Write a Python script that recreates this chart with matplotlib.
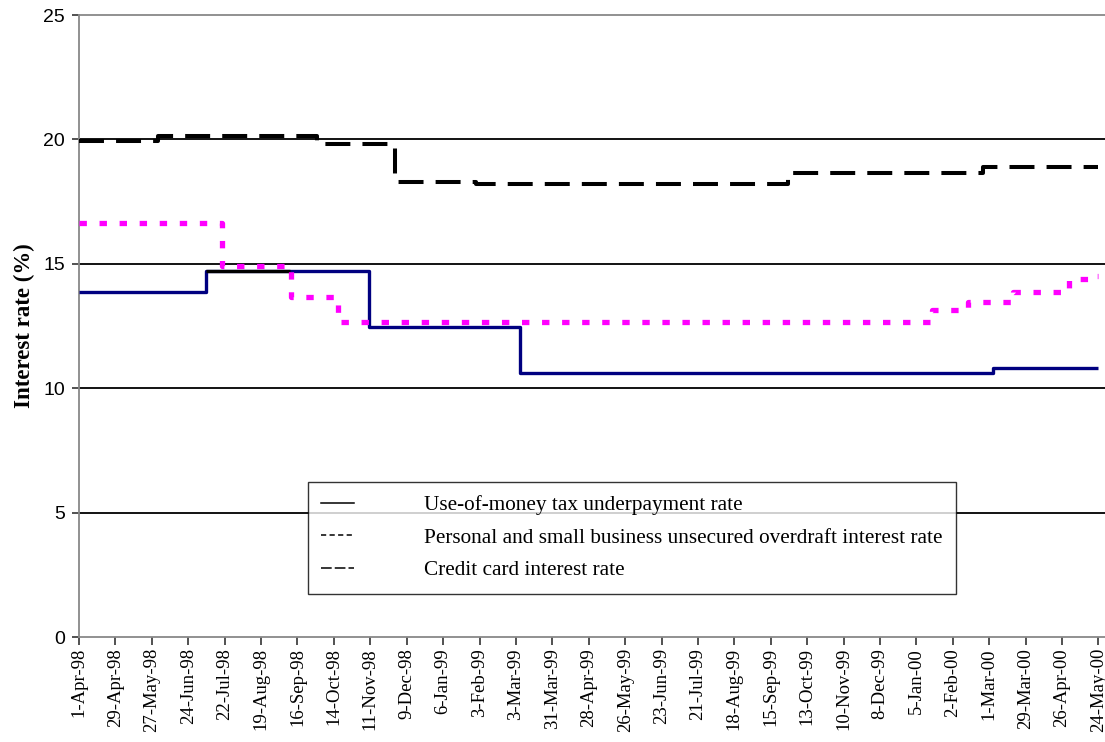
import datetime as dt
import matplotlib.pyplot as plt
from matplotlib.lines import Line2D

# step changes in each rate (date the new rate applies, rate in %)
underpay_dates = ["1998-04-01", "1998-07-08", "1998-11-10", "1999-03-06", "2000-03-04", "2000-05-24"]
underpay_rates = [13.85, 14.7, 12.45, 10.6, 10.8, 10.8]

overdraft_dates = ["1998-04-01", "1998-07-20", "1998-09-11", "1998-10-17", "2000-01-17",
                   "2000-02-14", "2000-03-19", "2000-05-01", "2000-05-19", "2000-05-24"]
overdraft_rates = [16.65, 14.9, 13.65, 12.65, 13.15, 13.45, 13.85, 14.4, 14.5, 14.5]

credit_dates = ["1998-04-01", "1998-06-01", "1998-10-01", "1998-11-30", "1999-01-31",
                "1999-09-28", "2000-02-25", "2000-05-24"]
credit_rates = [19.95, 20.15, 19.8, 18.3, 18.2, 18.65, 18.9, 18.9]

# stretch of the underpayment line that prints in black
dark_from, dark_to = "1998-07-08", "1998-09-10"

series_names = ["Use-of-money tax underpayment rate",
                "Personal and small business unsecured overdraft interest rate",
                "Credit card interest rate"]

first_tick, tick_step, n_ticks = "1998-04-01", 28, 29
x_end = "2000-05-29"
y_ticks = [0, 5, 10, 15, 20, 25]


def parse(s):
    return dt.datetime.strptime(s, "%Y-%m-%d")


def rate_on(dates, rates, when):
    value = rates[0]
    for d, r in zip(dates, rates):
        if d <= when:
            value = r
    return value


ud = [parse(s) for s in underpay_dates]
od = [parse(s) for s in overdraft_dates]
cd = [parse(s) for s in credit_dates]

fig = plt.figure(figsize=(11.05, 7.42), dpi=100)
ax = fig.add_axes([79 / 1105, 1 - 637 / 742, 1026 / 1105, 622 / 742])

for level in y_ticks[1:-1]:
    ax.axhline(level, color="black", lw=1.3, zorder=1)

ax.plot(ud, underpay_rates, drawstyle="steps-post", color="#000080", lw=2.4,
        solid_capstyle="butt", zorder=3)
d0, d1 = parse(dark_from), parse(dark_to)
ax.plot([d0, d1], [rate_on(ud, underpay_rates, d0)] * 2, color="black", lw=2.4,
        solid_capstyle="butt", zorder=3)
ax.plot(cd, credit_rates, drawstyle="steps-post", color="black", lw=2.9,
        linestyle=(0, (6.2, 3.0)), dash_capstyle="butt", zorder=4)
ax.plot(od, overdraft_rates, drawstyle="steps-post", color="#FF00FF", lw=3.8,
        linestyle=(0, (1.4, 2.4)), dash_capstyle="butt", zorder=5)

ax.set_ylim(0, 25)
ax.set_yticks(y_ticks)
ax.set_xlim(parse(first_tick), parse(x_end))
ticks = [parse(first_tick) + dt.timedelta(days=tick_step * i) for i in range(n_ticks)]
ax.set_xticks(ticks, [f"{t.day}-{t.strftime('%b-%y')}" for t in ticks])

for lab in ax.get_xticklabels():
    lab.set_rotation(90)
    lab.set_fontfamily("Liberation Serif")
    lab.set_fontsize(13.5)
for lab in ax.get_yticklabels():
    lab.set_fontfamily("Liberation Sans")
    lab.set_fontsize(14)

ax.tick_params(axis="x", direction="out", length=6, width=1.2, color="#333333", pad=2)
ax.tick_params(axis="y", direction="out", length=5, width=1.2, color="#333333", pad=5)

ax.spines["right"].set_visible(False)
for side in ["left", "top", "bottom"]:
    ax.spines[side].set_color("#888888")
    ax.spines[side].set_linewidth(1.3)

ax.set_ylabel("Interest rate (%)", fontfamily="Liberation Serif", fontweight="bold",
              fontsize=16.5, labelpad=6)

handles = [Line2D([], [], color="black", lw=1.1),
           Line2D([], [], color="black", lw=1.1, linestyle=(0, (3.4, 2.2))),
           Line2D([], [], color="black", lw=1.1, linestyle=(0, (7, 2)))]
leg = ax.legend(handles, series_names, loc="upper left", bbox_to_anchor=(0.223, 0.249),
                prop={"family": "Liberation Serif", "size": 15.3}, frameon=True,
                fancybox=False, edgecolor="black", handlelength=1.55, handletextpad=3.3,
                labelspacing=0.6, borderpad=0.62, borderaxespad=0)
leg.get_frame().set_linewidth(1.0)
leg.set_zorder(6)

fig.savefig("out.png", dpi=100)
